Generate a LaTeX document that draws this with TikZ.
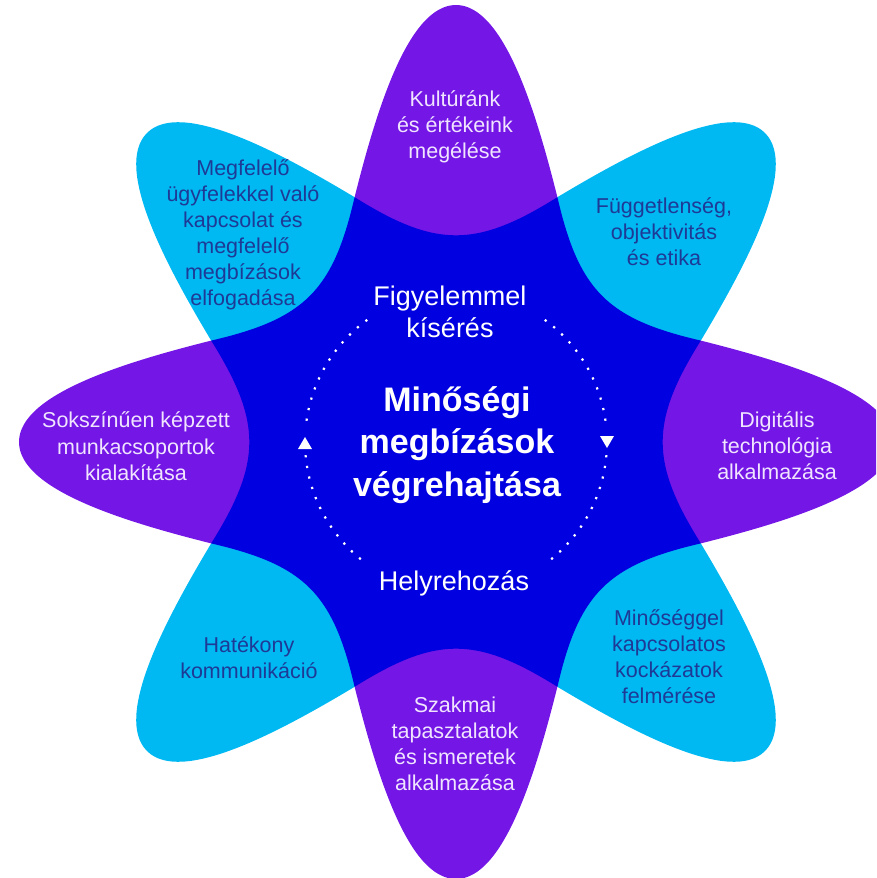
\documentclass[tikz,border=0pt]{standalone}
\usepackage{fontspec}
\setmainfont{Liberation Sans}
\definecolor{pur}{RGB}{115,22,230}
\definecolor{cya}{RGB}{0,185,242}
\definecolor{blu}{RGB}{0,0,225}
\definecolor{dtx}{RGB}{30,58,150}
\definecolor{ptx}{RGB}{240,228,255}
\begin{document}
\begin{tikzpicture}[x=1pt,y=1pt,
  lbl/.style={align=center,inner sep=0pt,font=\fontsize{21.5}{26}\selectfont},
  onpur/.style={lbl,text=ptx},
  oncya/.style={lbl,text=dtx},
  ring/.style={white,line width=2.2pt,dash pattern=on 2.2pt off 8.6pt},
  tri/.style={fill=white}]
\useasboundingbox (-456,-436) rectangle (420,442);
\clip (-456,-436) rectangle (420,442);
% petals
\foreach \a/\c in {90/pur,45/cya,0/pur,-45/cya,-90/pur,-135/cya,180/pur,135/cya}{
  \fill[\c,rotate=\a-90] (-101.4,244.8) .. controls (-80,330) and (-48,437) .. (0,437)
     .. controls (48,437) and (80,330) .. (101.4,244.8) -- (0,0) -- cycle;
}
% central star
\fill[blu] (-22.5:265) \foreach \a in {0,45,...,315}{
   .. controls ({\a-5.9}:195) and ({\a+5.9}:195) .. ({\a+22.5}:265) } -- cycle;
% petal labels
\node[onpur] (top) at (-1,314.7) {\strut Kultúránk\\és értékeink\\megélése\strut};
\node[oncya] (topright) at (208,207.7) {\strut Függetlenség,\\objektivitás\\és etika\strut};
\node[onpur] (right) at (321,-5.8) {\strut Digitális\\technológia\\alkalmazása\strut};
\node[oncya] (botright) at (213,-217.3) {\strut Minőséggel\\kapcsolatos\\kockázatok\\felmérése\strut};
\node[onpur] (bottom) at (-1,-303.8) {\strut Szakmai\\tapasztalatok\\és ismeretek\\alkalmazása\strut};
\node[oncya] (botleft) at (-207,-218.3) {\strut Hatékony\\kommunikáció\strut};
\node[onpur] (left) at (-320,-6.8) {\strut Sokszínűen képzett\\munkacsoportok\\kialakítása\strut};
\node[oncya] (topleft) at (-213,206.2) {\strut Megfelelő\\ügyfelekkel való\\kapcsolat és\\megfelelő\\megbízások\\elfogadása\strut};
% centre
\node[align=center,inner sep=0pt,text=white,font=\fontsize{34}{42.5}\selectfont\bfseries] (title) at (1,-3)
  {\strut Minőségi\\megbízások\\végrehajtása\strut};
\node[align=center,inner sep=0pt,text=white,font=\fontsize{27}{32}\selectfont] (monitor) at (-6,126.4)
  {\strut Figyelemmel\\kísérés\strut};
\node[align=center,inner sep=0pt,text=white,font=\fontsize{27}{32}\selectfont] (repair) at (-2,-141.6)
  {\strut Helyrehozás};
% dotted cycle
\draw[ring] (54:151) arc[start angle=54,end angle=5,radius=151];
\draw[ring] (-5:151) arc[start angle=-5,end angle=-54,radius=151];
\draw[ring] (126:151) arc[start angle=126,end angle=175,radius=151];
\draw[ring] (185:151) arc[start angle=185,end angle=234,radius=151];
\fill[tri] (144,6) -- (158,6) -- (151,-6) -- cycle;
\fill[tri] (-158,-7) -- (-144,-7) -- (-151,5) -- cycle;
\end{tikzpicture}
\end{document}
